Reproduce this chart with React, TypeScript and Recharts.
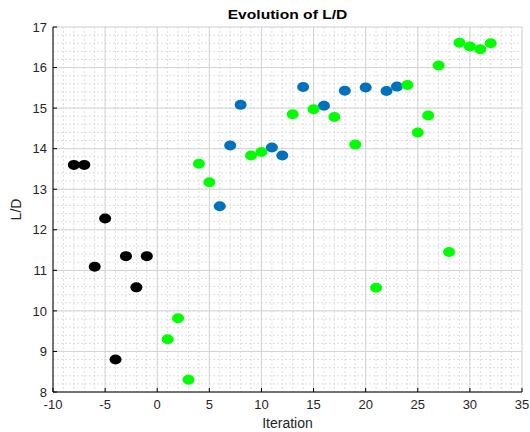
import React from "react";
import { ScatterChart, Scatter, XAxis, YAxis, CartesianGrid, Label } from "recharts";

const blackX = [-8, -7, -5, -6, -3, -1, -2, -4];
const blackY = [13.6, 13.6, 12.28, 11.09, 11.35, 11.35, 10.58, 8.8];

const blueX = [6, 7, 8, 11, 12, 14, 16, 18, 20, 22, 23];
const blueY = [12.58, 14.08, 15.08, 14.03, 13.83, 15.52, 15.06, 15.43, 15.51, 15.42, 15.53];

const greenX = [1, 2, 3, 4, 5, 9, 10, 13, 15, 17, 19, 21, 24, 25, 26, 27, 28, 29, 30, 31, 32];
const greenY = [9.3, 9.82, 8.3, 13.63, 13.17, 13.83, 13.92, 14.85, 14.97, 14.78, 14.1, 10.57, 15.57, 14.4, 14.82, 16.05, 11.45, 16.61, 16.52, 16.45, 16.6];

const xDomain = [-10, 35];
const yDomain = [8, 17];
const xTicks = [-10, -5, 0, 5, 10, 15, 20, 25, 30, 35];
const yTicks = [8, 9, 10, 11, 12, 13, 14, 15, 16, 17];
const xMinorTicks = Array.from({ length: 46 }, (_, i) => -10 + i);
const yMinorTicks = Array.from({ length: 46 }, (_, i) => Math.round((8 + i * 0.2) * 10) / 10);

const toPoints = (xs: number[], ys: number[]) => xs.map((x, i) => ({ x, y: ys[i] }));
const blackData = toPoints(blackX, blackY);
const blueData = toPoints(blueX, blueY);
const greenData = toPoints(greenX, greenY);

const FONT = "'Liberation Sans', Arial, sans-serif";
const TEXT = "#262626";

const dot = (color: string) => (props: any) => (
  <ellipse cx={props.cx} cy={props.cy} rx={6} ry={5} fill={color} />
);

const YLabel = (props: any) => {
  const vb = props.viewBox || {};
  const cx = 16;
  const cy = vb.y + vb.height / 2;
  return (
    <text
      x={cx}
      y={cy}
      transform={`rotate(-90 ${cx} ${cy})`}
      textAnchor="middle"
      dominantBaseline="central"
      fill={TEXT}
      fontSize={14}
      fontFamily={FONT}
    >
      L/D
    </text>
  );
};

const minorVertical = ({ offset }: any) => {
  if (!offset) return [];
  return xMinorTicks.map(
    (v) => offset.left + ((v - xDomain[0]) / (xDomain[1] - xDomain[0])) * offset.width
  );
};
const minorHorizontal = ({ offset }: any) => {
  if (!offset) return [];
  return yMinorTicks.map(
    (v) => offset.top + offset.height - ((v - yDomain[0]) / (yDomain[1] - yDomain[0])) * offset.height
  );
};

export default function App() {
  return (
    <div style={{ position: "absolute", left: 0, top: 0, width: 530, height: 432, background: "#fff" }}>
      <div
        style={{
          position: "absolute",
          left: 0,
          width: 575,
          top: 7,
          textAlign: "center",
          fontFamily: FONT,
          fontWeight: "bold",
          fontSize: 13,
          lineHeight: "15px",
          color: "#000",
          transform: "scaleX(1.2)",
          transformOrigin: "287.5px 0",
        }}
      >
        Evolution of L/D
      </div>
      <ScatterChart width={530} height={432} margin={{ top: 27, right: 8, bottom: 0, left: 0 }}>
        <CartesianGrid
          stroke="#dedede"
          strokeDasharray="2 2"
          verticalCoordinatesGenerator={minorVertical}
          horizontalCoordinatesGenerator={minorHorizontal}
        />
        <CartesianGrid stroke="#d4d4d4" />
        <XAxis
          type="number"
          dataKey="x"
          domain={xDomain}
          ticks={xTicks}
          interval={0}
          height={40}
          axisLine={{ stroke: "#000" }}
          tickLine={{ stroke: "#000" }}
          tickSize={-4}
          tickMargin={12}
          tick={{ fill: TEXT, fontSize: 13, fontFamily: FONT }}
        >
          <Label value="Iteration" position="insideBottom" offset={4} fill={TEXT} fontSize={14} fontFamily={FONT} />
        </XAxis>
        <YAxis
          type="number"
          dataKey="y"
          domain={yDomain}
          ticks={yTicks}
          interval={0}
          width={53}
          axisLine={{ stroke: "#000" }}
          tickLine={{ stroke: "#000" }}
          tickSize={-4}
          tickMargin={10}
          tick={{ fill: TEXT, fontSize: 13, fontFamily: FONT }}
        >
          <Label content={YLabel} />
        </YAxis>
        <Scatter data={blackData} shape={dot("#000000")} isAnimationActive={false} />
        <Scatter data={blueData} shape={dot("#0072BD")} isAnimationActive={false} />
        <Scatter data={greenData} shape={dot("#00FF00")} isAnimationActive={false} />
      </ScatterChart>
    </div>
  );
}
